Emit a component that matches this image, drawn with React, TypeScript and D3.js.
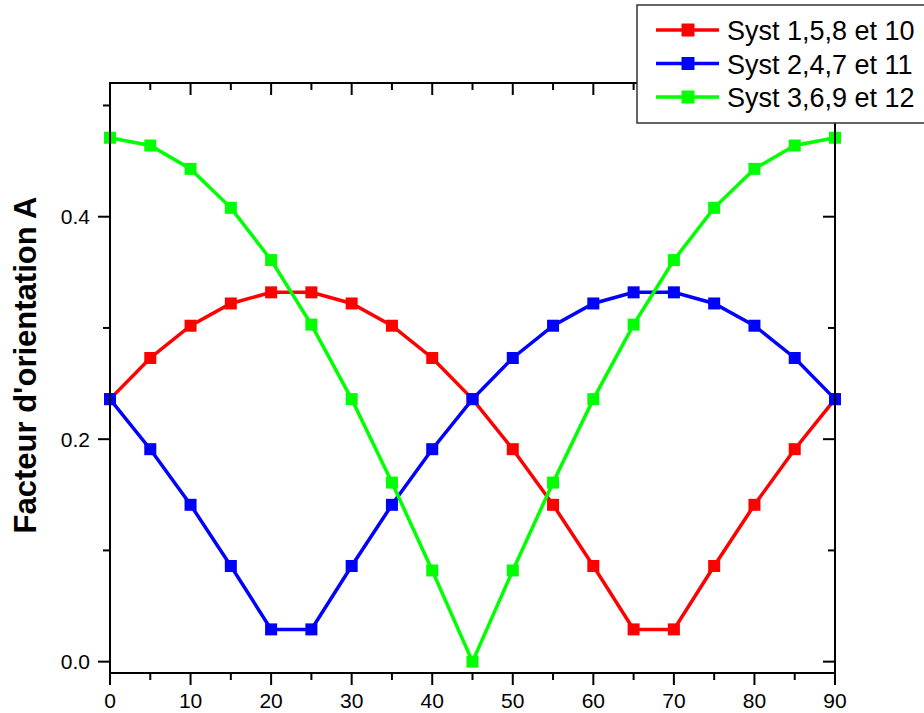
import React from "react";
import * as d3 from "d3";

const angles = [0, 5, 10, 15, 20, 25, 30, 35, 40, 45, 50, 55, 60, 65, 70, 75, 80, 85, 90];
const syst1 = [0.236, 0.273, 0.302, 0.322, 0.332, 0.332, 0.322, 0.302, 0.273, 0.236, 0.191, 0.141, 0.086, 0.029, 0.029, 0.086, 0.141, 0.191, 0.236];
const syst2 = [0.236, 0.191, 0.141, 0.086, 0.029, 0.029, 0.086, 0.141, 0.191, 0.236, 0.273, 0.302, 0.322, 0.332, 0.332, 0.322, 0.302, 0.273, 0.236];
const syst3 = [0.471, 0.464, 0.443, 0.408, 0.361, 0.303, 0.236, 0.161, 0.082, 0.0, 0.082, 0.161, 0.236, 0.303, 0.361, 0.408, 0.443, 0.464, 0.471];
const seriesNames = ["Syst 1,5,8 et 10", "Syst 2,4,7 et 11", "Syst 3,6,9 et 12"];
const seriesColors = ["#ff0000", "#0000ff", "#00ff00"];
const xMajorTicks = [0, 10, 20, 30, 40, 50, 60, 70, 80, 90];
const xMinorTicks = [5, 15, 25, 35, 45, 55, 65, 75, 85];
const yMajorTicks = [0.0, 0.2, 0.4];
const yMinorTicks = [0.1, 0.3, 0.5];
const yTitle = "Facteur d'orientation A";

const W = 924, H = 713;
const L = 110, R = 835, T = 83, B = 673;
const FONT = "'Liberation Sans', Arial, sans-serif";

export default function App() {
  const x = d3.scaleLinear().domain([0, 90]).range([L, R]);
  const y = d3.scaleLinear().domain([-0.0102, 0.5202]).range([B, T]);
  const series = [syst1, syst2, syst3];
  const line = d3.line<[number, number]>().x(d => x(d[0])).y(d => y(d[1]));
  const ms = 12;
  return (
    <svg width={W} height={H} style={{ position: "absolute", left: 0, top: 0 }} fontFamily={FONT}>
      <rect x={0} y={0} width={W} height={H} fill="#fff" />
      {series.map((vals, i) => {
        const pts: [number, number][] = angles.map((a, j) => [a, vals[j]]);
        return (
          <g key={i}>
            <path d={line(pts) || ""} fill="none" stroke={seriesColors[i]} strokeWidth={3.5} />
            {pts.map((p, j) => (
              <rect key={j} x={x(p[0]) - ms / 2} y={y(p[1]) - ms / 2} width={ms} height={ms} fill={seriesColors[i]} />
            ))}
          </g>
        );
      })}
      <rect x={L} y={T} width={R - L} height={B - T} fill="none" stroke="#000" strokeWidth={2} />
      {xMajorTicks.map(t => (
        <g key={"xb" + t}>
          <line x1={x(t)} x2={x(t)} y1={B} y2={B + 12} stroke="#000" strokeWidth={2} />
          <line x1={x(t)} x2={x(t)} y1={T} y2={T + 12} stroke="#000" strokeWidth={2} />
          <text x={x(t)} y={708} fontSize={21} textAnchor="middle" fill="#000">{t}</text>
        </g>
      ))}
      {xMinorTicks.map(t => (
        <g key={"xm" + t}>
          <line x1={x(t)} x2={x(t)} y1={B} y2={B + 7} stroke="#000" strokeWidth={2} />
          <line x1={x(t)} x2={x(t)} y1={T} y2={T + 7} stroke="#000" strokeWidth={2} />
        </g>
      ))}
      {yMajorTicks.map(t => (
        <g key={"yb" + t}>
          <line x1={L - 12} x2={L} y1={y(t)} y2={y(t)} stroke="#000" strokeWidth={2} />
          <line x1={R - 12} x2={R} y1={y(t)} y2={y(t)} stroke="#000" strokeWidth={2} />
          <text x={90} y={y(t) + 7.5} fontSize={21} textAnchor="end" fill="#000">{t.toFixed(1)}</text>
        </g>
      ))}
      {yMinorTicks.map(t => (
        <g key={"ym" + t}>
          <line x1={L - 7} x2={L} y1={y(t)} y2={y(t)} stroke="#000" strokeWidth={2} />
          <line x1={R - 7} x2={R} y1={y(t)} y2={y(t)} stroke="#000" strokeWidth={2} />
        </g>
      ))}
      <text transform={`translate(36,365) rotate(-90)`} fontSize={31} fontWeight="bold" textAnchor="middle" fill="#000">{yTitle}</text>
      <rect x={637} y={5} width={300} height={118} fill="#fff" stroke="#333" strokeWidth={1.5} />
      {seriesNames.map((n, i) => {
        const ly = 30 + i * 33.5;
        return (
          <g key={n}>
            <line x1={656} x2={719} y1={ly} y2={ly} stroke={seriesColors[i]} strokeWidth={3.5} />
            <rect x={688 - 6.5} y={ly - 6.5} width={13} height={13} fill={seriesColors[i]} />
            <text x={727} y={ly + 10} fontSize={27} fill="#000">{n}</text>
          </g>
        );
      })}
    </svg>
  );
}
